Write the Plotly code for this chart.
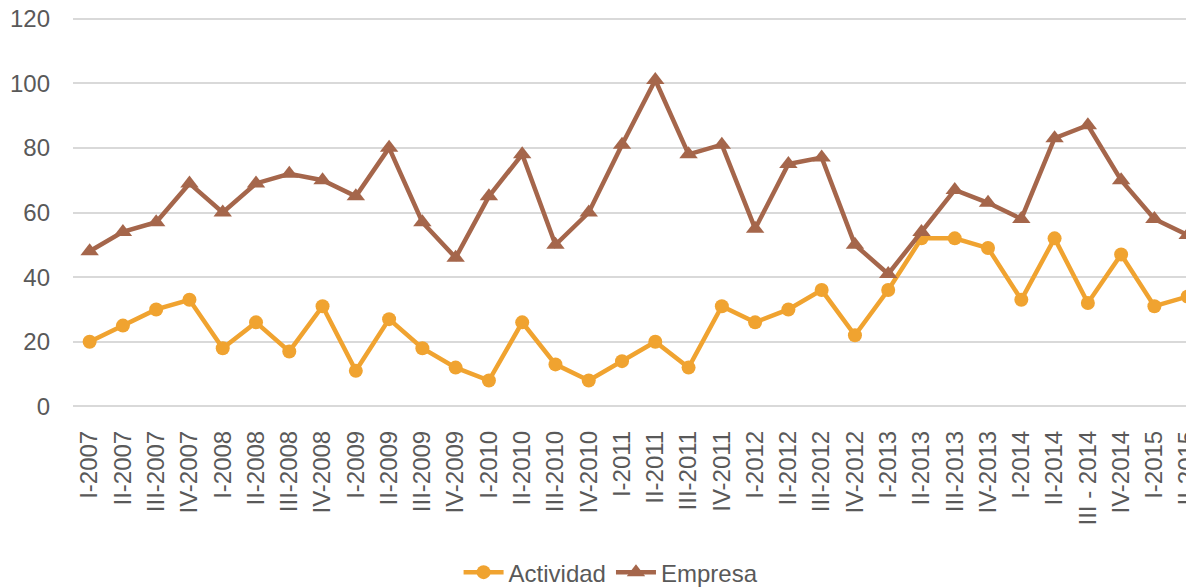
import plotly.graph_objects as go

categories = ["I-2007", "II-2007", "III-2007", "IV-2007",
              "I-2008", "II-2008", "III-2008", "IV-2008",
              "I-2009", "II-2009", "III-2009", "IV-2009",
              "I-2010", "II-2010", "III-2010", "IV-2010",
              "I-2011", "II-2011", "III-2011", "IV-2011",
              "I-2012", "II-2012", "III-2012", "IV-2012",
              "I-2013", "II-2013", "III-2013", "IV-2013",
              "I-2014", "II-2014", "III - 2014", "IV-2014",
              "I-2015", "II-2015"]

actividad = [20, 25, 30, 33, 18, 26, 17, 31, 11, 27, 18, 12,
             8, 26, 13, 8, 14, 20, 12, 31, 26, 30, 36, 22,
             36, 52, 52, 49, 33, 52, 32, 47, 31, 34]

empresa = [48, 54, 57, 69, 60, 69, 72, 70, 65, 80, 57, 46,
           65, 78, 50, 60, 81, 101, 78, 81, 55, 75, 77, 50,
           41, 54, 67, 63, 58, 83, 87, 70, 58, 53]

y_ticks = [0, 20, 40, 60, 80, 100, 120]

FONT = "Liberation Sans, Arial, sans-serif"
TXT = "#595959"
FS = 24

fig = go.Figure()
fig.add_trace(go.Scatter(
    x=categories, y=actividad, name="Actividad", mode="lines+markers",
    line=dict(color="#F0A330", width=4.5),
    marker=dict(symbol="circle", size=14, color="#F0A330"),
    cliponaxis=False,
))
fig.add_trace(go.Scatter(
    x=categories, y=empresa, name="Empresa", mode="lines+markers",
    line=dict(color="#A5664B", width=4.5),
    marker=dict(symbol="triangle-up", size=16, color="#A5664B"),
    cliponaxis=False,
))

# page body has an 8px margin, so figure is offset by (8, 8)
fig.update_layout(
    width=1186, height=579,
    margin=dict(l=65, r=0, t=9, b=179, autoexpand=False),
    plot_bgcolor="white", paper_bgcolor="white",
    font=dict(family=FONT, color=TXT, size=FS),
    showlegend=True,
    legend=dict(orientation="h", x=0.48, xanchor="center",
                yref="container", y=0.025, yanchor="middle",
                itemwidth=40, tracegroupgap=0,
                font=dict(size=FS, color=TXT)),
    xaxis=dict(type="category", range=[-0.5, 33.19], automargin=False,
               tickangle=-90, showgrid=False, showline=False,
               ticks="", ticklabelstandoff=17, ticklabeloverflow="allow",
               tickfont=dict(size=FS, color=TXT)),
    yaxis=dict(range=[-0.5, 120.5], tickvals=y_ticks, showgrid=True,
               automargin=False,
               gridcolor="#D9D9D9", gridwidth=1.5, zeroline=False,
               showline=False, ticks="", ticklabelstandoff=22,
               ticklabeloverflow="allow",
               tickfont=dict(size=FS, color=TXT)),
)

fig.write_html("out.html")
